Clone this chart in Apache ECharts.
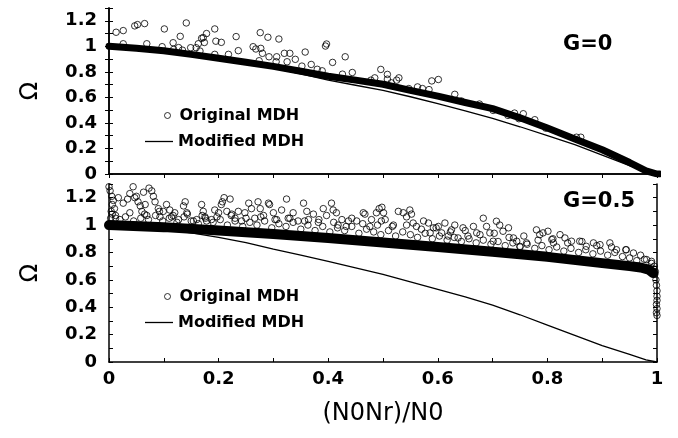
<!DOCTYPE html>
<html>
<head>
<meta charset="utf-8">
<script src="https://cdn.jsdelivr.net/npm/echarts@6/dist/echarts.min.js"></script>
<style>
  html, body { margin: 0; padding: 0; background: #fff; }
  #chart { width: 678px; height: 438px; }
</style>
</head>
<body>
<div id="chart"></div>
<script>
// ---- data ----
// G=0 panel
var topCore = [[0,1.0],[0.05,0.985],[0.1,0.965],[0.15,0.937],[0.2,0.907],[0.25,0.875],[0.3,0.843],[0.35,0.805],
  [0.4,0.765],[0.45,0.735],[0.5,0.703],[0.55,0.655],[0.6,0.61],[0.65,0.56],[0.7,0.512],[0.75,0.44],[0.8,0.36],
  [0.85,0.275],[0.9,0.19],[0.95,0.09],[0.98,0.025],[1.0,0.0],[1.005,0.0]];
var topModified = [[0,1.0],[0.1,0.963],[0.2,0.903],[0.3,0.83],[0.35,0.785],[0.4,0.735],[0.45,0.695],[0.5,0.655],
  [0.55,0.605],[0.6,0.552],[0.65,0.495],[0.7,0.435],[0.75,0.37],[0.8,0.30],[0.85,0.23],[0.9,0.148],[0.95,0.065],
  [0.98,0.02],[1.0,0.0]];
var topOriginal = [[0.013,1.11],[0.026,1.123],[0.026,1.02],[0.047,1.16],[0.052,1.17],[0.065,1.178],[0.069,1.02],
  [0.097,0.997],[0.101,1.136],[0.117,1.028],[0.118,0.976],[0.13,1.078],[0.127,0.99],[0.141,1.183],[0.134,0.97],
  [0.149,0.989],[0.159,0.989],[0.163,1.02],[0.166,0.963],[0.169,1.063],[0.172,1.068],[0.174,1.03],[0.178,1.10],
  [0.193,1.136],[0.193,0.937],[0.195,1.04],[0.205,1.031],[0.218,0.937],[0.232,1.076],[0.236,0.966],[0.263,0.997],
  [0.268,0.979],[0.276,1.107],[0.277,0.984],[0.28,0.945],[0.29,1.071],[0.292,0.918],[0.274,0.887],[0.31,1.057],
  [0.306,0.918],[0.305,0.879],[0.32,0.945],[0.33,0.945],[0.325,0.879],[0.34,0.898],[0.352,0.845],[0.358,0.955],
  [0.369,0.858],[0.38,0.82],[0.389,0.808],[0.395,1.002],[0.397,1.018],[0.408,0.874],[0.431,0.918],[0.426,0.782],
  [0.444,0.795],[0.478,0.735],[0.485,0.753],[0.496,0.819],[0.508,0.78],[0.508,0.743],[0.515,0.714],[0.525,0.735],
  [0.529,0.753],[0.547,0.669],[0.563,0.682],[0.572,0.669],[0.584,0.661],[0.589,0.729],[0.601,0.74],[0.631,0.624],
  [0.643,0.572],[0.676,0.548],[0.701,0.498],[0.728,0.459],[0.74,0.477],[0.748,0.433],[0.756,0.472],[0.777,0.425],
  [0.797,0.359],[0.853,0.288],[0.861,0.288]];

// G=0.5 panel
var botCore = [[0,1.0],[0.1,0.985],[0.2,0.96],[0.3,0.935],[0.4,0.905],[0.5,0.872],[0.6,0.84],[0.7,0.805],
  [0.8,0.768],[0.9,0.722],[0.95,0.70],[0.97,0.69],[0.985,0.675],[0.993,0.65]];
var botModified = [[0,1.0],[0.05,0.99],[0.1,0.968],[0.15,0.943],[0.2,0.91],[0.25,0.872],[0.3,0.825],[0.35,0.78],
  [0.4,0.735],[0.45,0.688],[0.5,0.64],[0.55,0.585],[0.6,0.53],[0.65,0.475],[0.7,0.415],[0.75,0.345],[0.8,0.27],
  [0.85,0.195],[0.9,0.12],[0.95,0.055],[0.98,0.015],[1.0,0.0]];
var botOriginal = [[0.0,1.28],[0.002,1.25],[0.005,1.21],[0.008,1.18],[0.006,1.15],[0.01,1.12],[0.004,1.1],
  [0.012,1.07],[0.003,1.05],[0.017,1.2],[0.026,1.16],[0.034,1.19],[0.038,1.23],[0.044,1.28],[0.047,1.2],[0.05,1.21],
  [0.053,1.17],[0.057,1.14],[0.06,1.1],[0.063,1.24],[0.066,1.15],[0.069,1.07],[0.073,1.27],[0.078,1.25],[0.081,1.21],
  [0.084,1.17],[0.09,1.12],[0.093,1.06],[0.099,1.1],[0.105,1.15],[0.111,1.11],[0.114,1.06],[0.12,1.09],[0.127,1.04],
  [0.136,1.14],[0.139,1.17],[0.142,1.09],[0.154,1.03],[0.16,1.04],[0.169,1.15],[0.172,1.1],[0.175,1.06],[0.178,1.03],
  [0.187,1.04],[0.193,1.11],[0.2,1.09],[0.205,1.15],[0.207,1.17],[0.21,1.2],[0.215,1.1],[0.221,1.19],[0.224,1.08],
  [0.23,1.05],[0.236,1.1],[0.242,1.03],[0.248,1.09],[0.255,1.16],[0.26,1.12],[0.266,1.05],[0.272,1.17],[0.276,1.12],
  [0.282,1.07],[0.291,1.16],[0.293,1.15],[0.3,1.09],[0.306,1.04],[0.315,1.11],[0.324,1.19],[0.327,1.05],[0.336,1.09],
  [0.345,1.03],[0.355,1.16],[0.361,1.1],[0.364,1.04],[0.373,1.08],[0.382,1.02],[0.391,1.12],[0.397,1.07],[0.406,1.16],
  [0.409,1.11],[0.415,1.09],[0.418,1.0],[0.425,1.04],[0.433,0.99],[0.443,1.05],[0.452,1.03],[0.464,1.09],[0.467,1.08],
  [0.476,0.99],[0.479,1.04],[0.488,1.09],[0.493,1.12],[0.497,1.03],[0.498,1.13],[0.501,1.09],[0.504,1.04],[0.519,1.0],
  [0.528,1.1],[0.537,1.09],[0.543,1.06],[0.549,1.11],[0.552,1.08],[0.555,1.015],[0.561,0.99],[0.574,1.03],[0.583,1.015],
  [0.586,0.943],[0.592,0.98],[0.601,0.99],[0.607,0.943],[0.613,1.015],[0.619,0.92],[0.625,0.965],[0.631,1.0],
  [0.637,0.906],[0.646,0.98],[0.655,0.92],[0.665,0.99],[0.671,0.943],[0.683,1.05],[0.689,0.99],[0.695,0.943],
  [0.701,0.882],[0.707,1.028],[0.713,1.0],[0.719,0.955],[0.729,0.98],[0.738,0.906],[0.744,0.882],[0.75,0.845],
  [0.762,0.87],[0.78,0.965],[0.786,0.93],[0.792,0.943],[0.801,0.955],[0.808,0.894],[0.811,0.87],[0.823,0.93],
  [0.832,0.906],[0.844,0.882],[0.859,0.882],[0.871,0.845],[0.884,0.87],[0.896,0.857],[0.914,0.87],[0.926,0.82],
  [0.944,0.82],[0.957,0.796],[0.981,0.748],[0.99,0.735]];
// circles crowding just above the dense band, and the drop at the right edge
var botNearBand = [[0.012,1.05],[0.02,1.04],[0.03,1.06],[0.045,1.03],[0.058,1.05],[0.072,1.04],[0.085,1.07],
  [0.098,1.03],[0.11,1.05],[0.124,1.02],[0.137,1.06],[0.15,1.03],[0.163,1.01],[0.176,1.05],[0.19,1.02],[0.203,1.04],
  [0.216,1.0],[0.23,1.03],[0.244,0.99],[0.257,1.02],[0.27,1.0],[0.284,1.03],[0.297,0.98],[0.31,1.01],[0.323,0.99],
  [0.336,1.02],[0.35,0.97],[0.363,1.0],[0.376,0.96],[0.39,0.99],[0.403,0.95],[0.417,0.98],[0.43,0.96],[0.443,0.99],
  [0.456,0.94],[0.47,0.97],[0.483,0.95],[0.496,0.93],[0.51,0.96],[0.523,0.92],[0.536,0.95],[0.55,0.93],[0.563,0.91],
  [0.577,0.94],[0.59,0.9],[0.603,0.92],[0.617,0.89],[0.63,0.91],[0.643,0.88],[0.657,0.9],[0.67,0.87],[0.683,0.89],
  [0.697,0.86],[0.71,0.88],[0.723,0.85],[0.737,0.87],[0.75,0.84],[0.763,0.86],[0.777,0.83],[0.79,0.85],[0.803,0.82],
  [0.817,0.84],[0.83,0.81],[0.843,0.83],[0.857,0.8],[0.87,0.82],[0.883,0.79],[0.897,0.81],[0.91,0.78],[0.923,0.8],
  [0.937,0.77],[0.95,0.76],[0.963,0.74],[0.977,0.75],[0.99,0.72],
  [0.006,1.08],[0.038,1.09],[0.065,1.08],[0.092,1.1],[0.117,1.07],[0.143,1.08],[0.17,1.07],[0.197,1.06],[0.223,1.07],
  [0.25,1.05],[0.277,1.06],[0.303,1.04],[0.33,1.05],[0.357,1.03],[0.383,1.04],[0.41,1.02],[0.437,1.03],[0.463,1.01],
  [0.49,1.0],[0.517,0.99],[0.543,1.0],[0.57,0.97],[0.597,0.98],[0.623,0.95],[0.65,0.96],[0.677,0.93],[0.703,0.94],
  [0.73,0.91],[0.757,0.92],[0.783,0.89],[0.81,0.9],[0.837,0.87],[0.863,0.88],[0.89,0.85],[0.917,0.84],[0.943,0.82],
  [0.97,0.78],[0.995,0.7],
  [0.994,0.68],[0.997,0.66],[0.996,0.64],[0.998,0.6],[0.999,0.56],[1.0,0.52],[1.0,0.48],[1.0,0.45],[0.999,0.42],
  [1.0,0.39],[0.999,0.36],[1.0,0.34]];

var FONT = 'DejaVu Sans';
var chart = echarts.init(document.getElementById('chart'));

function tickLabel(v) {
  var k = Math.round(v * 10);
  return k % 2 ? '' : String(k / 10);
}

var tickStyle = {show: true, inside: true, length: 4, lineStyle: {color: '#000', width: 1}};
var lineStyleAxis = {show: true, lineStyle: {color: '#000', width: 1.5}};
var labelStyle = {color: '#000', fontFamily: FONT, fontWeight: 'bold', fontSize: 18, formatter: tickLabel};

function xAx(grid, pos, opts) {
  return Object.assign({
    type: 'value', gridIndex: grid, position: pos, min: 0, max: 1, interval: 0.1,
    axisLine: lineStyleAxis, axisTick: tickStyle, axisLabel: {show: false}, splitLine: {show: false}
  }, opts || {});
}
function yAx(grid, pos, max, opts) {
  return Object.assign({
    type: 'value', gridIndex: grid, position: pos, min: 0, max: max, interval: 0.1,
    axisLine: lineStyleAxis, axisTick: tickStyle, axisLabel: {show: false}, splitLine: {show: false}
  }, opts || {});
}
var omegaName = {
  name: 'Ω', nameLocation: 'middle', nameRotate: 90, nameGap: 66,
  nameTextStyle: {color: '#000', fontFamily: FONT, fontSize: 24}
};

var circleStyle = {color: 'rgba(0,0,0,0)', borderColor: '#000', borderWidth: 1};

function scatter(data, xi, yi) {
  return {name: 'Original MDH', type: 'scatter', xAxisIndex: xi, yAxisIndex: yi, data: data,
    symbol: 'circle', symbolSize: 6.5, itemStyle: circleStyle, z: 3};
}
function core(data, xi, yi, w) {
  return {name: 'Original MDH (dense)', type: 'line', xAxisIndex: xi, yAxisIndex: yi, data: data,
    showSymbol: false, lineStyle: {color: '#000', width: w, cap: 'round', join: 'round'}, z: 2};
}
function modified(data, xi, yi) {
  return {name: 'Modified MDH', type: 'line', xAxisIndex: xi, yAxisIndex: yi, data: data,
    showSymbol: false, symbol: 'none', lineStyle: {color: '#000', width: 1.3}, itemStyle: {color: '#000'}, z: 4};
}
var legendText = {color: '#000', fontFamily: FONT, fontWeight: 'bold', fontSize: 16, lineHeight: 19};
function legendCircle(top) {
  return {left: 164, top: top, padding: 0, itemWidth: 14, itemHeight: 6, selectedMode: false,
    data: [{name: 'Original MDH', icon: 'circle', itemStyle: {color: 'rgba(0,0,0,0)', borderColor: '#000', borderWidth: 1}}],
    textStyle: legendText};
}
function legendLine(top) {
  return {left: 145, top: top, padding: 0, itemWidth: 28, itemHeight: 1.3, selectedMode: false,
    data: [{name: 'Modified MDH', icon: 'rect', itemStyle: {color: '#000', borderWidth: 0}}],
    textStyle: legendText};
}
var gStyle = {fontFamily: FONT, fontWeight: 'bold', fontSize: 21, color: '#000', lineHeight: 24};

var option = {
  animation: false,
  backgroundColor: '#fff',
  title: [
    {text: 'G=0', left: 563, top: 33, padding: 0, textStyle: gStyle},
    {text: 'G=0.5', left: 563, top: 190, padding: 0, textStyle: gStyle}
  ],
  legend: [legendCircle(106), legendLine(132), legendCircle(287), legendLine(313)],
  grid: [
    {left: 109, right: 21, top: 8, height: 166},
    {left: 109, right: 21, top: 184, height: 178}
  ],
  xAxis: [
    xAx(0, 'bottom', {axisTick: {show: false}}),
    xAx(0, 'top'),
    xAx(1, 'bottom', {
      axisLabel: Object.assign({}, labelStyle, {margin: 8}),
      name: '(N0Nr)/N0', nameLocation: 'middle', nameGap: 40,
      nameTextStyle: {color: '#000', fontFamily: FONT, fontSize: 24}
    })
  ],
  yAxis: [
    yAx(0, 'left', 1.3, Object.assign({axisLabel: Object.assign({}, labelStyle, {margin: 12})}, omegaName)),
    yAx(0, 'right', 1.3),
    yAx(1, 'left', 1.3, Object.assign({axisLabel: Object.assign({}, labelStyle, {margin: 12})}, omegaName)),
    yAx(1, 'right', 1.3)
  ],
  series: [
    core(topCore, 0, 0, 7),
    scatter(topOriginal, 0, 0),
    modified(topModified, 0, 0),
    core(botCore, 2, 2, 10),
    scatter(botOriginal, 2, 2),
    scatter(botNearBand, 2, 2),
    modified(botModified, 2, 2)
  ]
};
chart.setOption(option);
</script>
</body>
</html>
